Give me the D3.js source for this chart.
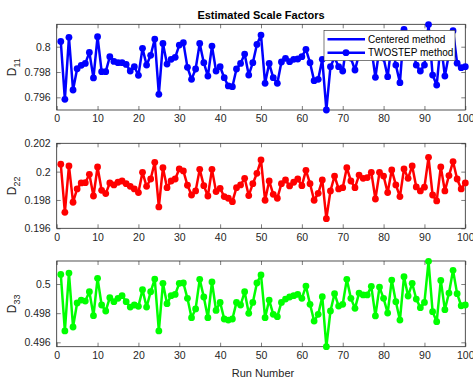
<!DOCTYPE html>
<html><head><meta charset="utf-8">
<script src="https://cdn.jsdelivr.net/npm/d3@7"></script>
<style>body{margin:0;background:#fff;} svg{display:block;font-family:"Liberation Sans",Arial,sans-serif;}</style>
</head><body>
<svg id="c" width="473" height="381"></svg>
<script>
const runs = d3.range(1, 101);
const D11 = [0.80042,0.79584,0.80074,0.79658,0.79826,0.79853,0.79868,0.79955,0.79753,0.80079,
0.79803,0.79803,0.79921,0.79884,0.79874,0.79874,0.7986,0.79808,0.79842,0.79774,
0.79987,0.79855,0.79932,0.8006,0.79624,0.80026,0.79863,0.799,0.79916,0.80013,
0.80032,0.79837,0.79742,0.79824,0.80026,0.79874,0.79768,0.80005,0.79808,0.79842,
0.79755,0.7969,0.79684,0.79824,0.79868,0.79942,0.79776,0.79874,0.80018,0.80092,
0.79711,0.79868,0.79755,0.79711,0.79879,0.79908,0.79882,0.799,0.79903,0.79921,
0.79979,0.79874,0.79732,0.79742,0.799,0.795,0.79842,0.79915,0.79842,0.79808,
0.8003,0.7991,0.79816,0.7994,0.7993,0.7993,0.7999,0.79758,0.7999,0.7991,
0.79763,0.8003,0.79855,0.79716,0.80137,0.7992,0.8001,0.79855,0.79808,0.79855,
0.80175,0.79776,0.79697,0.8003,0.79768,0.7994,0.80126,0.7987,0.79834,0.79842];
const D22 = [0.20052,0.19713,0.2004,0.19784,0.19878,0.1992,0.19922,0.19981,0.19828,0.20033,
0.19868,0.19845,0.1992,0.19906,0.19925,0.19934,0.19915,0.19896,0.19878,0.19852,
0.19995,0.19896,0.19948,0.20066,0.19751,0.20028,0.19887,0.19934,0.19948,0.20019,
0.20005,0.19904,0.19835,0.19864,0.20016,0.19901,0.19828,0.20016,0.19859,0.19882,
0.19824,0.19812,0.19788,0.19887,0.19906,0.19953,0.19831,0.19915,0.19988,0.20082,
0.19798,0.19934,0.1984,0.19812,0.19915,0.19941,0.19899,0.19925,0.19948,0.19901,
0.20009,0.19915,0.19798,0.19847,0.19941,0.19668,0.19864,0.19969,0.19878,0.19887,
0.20028,0.19934,0.19887,0.19976,0.19953,0.19958,0.19995,0.19807,0.19995,0.19969,
0.19852,0.20012,0.19906,0.19824,0.20019,0.19953,0.2004,0.19892,0.19864,0.1989,
0.20101,0.19835,0.19793,0.20033,0.19864,0.19972,0.20071,0.19948,0.19878,0.1992];
const D33 = [0.50066,0.49678,0.50075,0.49705,0.4987,0.4989,0.49883,0.49947,0.49783,0.50039,
0.49856,0.49815,0.49906,0.49879,0.49902,0.4992,0.49879,0.49842,0.49856,0.49847,
0.49961,0.49842,0.49947,0.50034,0.49678,0.50005,0.49865,0.4992,0.49929,0.50005,
0.50007,0.49902,0.49769,0.49829,0.50032,0.49911,0.49769,0.50014,0.49819,0.49874,
0.4976,0.49753,0.4976,0.49874,0.49856,0.49947,0.49799,0.49874,0.50007,0.50062,
0.49769,0.4989,0.49792,0.49776,0.49874,0.49897,0.49911,0.4992,0.49929,0.49902,
0.49986,0.49861,0.49746,0.49792,0.49913,0.4957,0.49815,0.49934,0.49849,0.49861,
0.50032,0.49902,0.49833,0.49938,0.49925,0.49925,0.49984,0.49781,0.49979,0.49902,
0.49801,0.50027,0.49879,0.49753,0.5005,0.49918,0.50005,0.49897,0.49838,0.49874,
0.50156,0.4981,0.49742,0.50025,0.49824,0.49938,0.50094,0.49934,0.49851,0.49856];
const yDomain11 = [0.795, 0.80177];
const yDomain22 = [0.196, 0.202];
const yDomain33 = [0.4957, 0.50158];
const yTicks11 = [0.796, 0.798, 0.8];
const yTicks22 = [0.196, 0.198, 0.2, 0.202];
const yTicks33 = [0.496, 0.498, 0.5];
const xTicks = [0,10,20,30,40,50,60,70,80,90,100];
const legendLabels = ["Centered method", "TWOSTEP method"];

const svg = d3.select("#c");
const L = 56.7, R = 465.3;
const x = d3.scaleLinear().domain([0,100]).range([L,R]);
const axisCol = "#262626";
const MR = 3.4, LW = 2.5;

const panels = [
  {vals:D11, dom:yDomain11, ticks:yTicks11, top:24.3, bot:110, col:"#0000ff", sub:"11"},
  {vals:D22, dom:yDomain22, ticks:yTicks22, top:143.3, bot:228.3, col:"#ff0000", sub:"22"},
  {vals:D33, dom:yDomain33, ticks:yTicks33, top:261, bot:346.7, col:"#00ff00", sub:"33"}
];

panels.forEach(p => {
  const y = d3.scaleLinear().domain(p.dom).range([p.bot, p.top]);
  const g = svg.append("g");
  const fmt = d => d3.format("")(+d.toFixed(3));
  const styleAxis = sel => {
    sel.select(".domain").remove();
    sel.selectAll("line").attr("stroke", axisCol).attr("stroke-width", 0.6);
    sel.selectAll("text").attr("fill", axisCol).attr("font-size", 10.5).attr("font-family", '"Liberation Sans",Arial,sans-serif');
  };
  g.append("g").attr("transform", `translate(0,${p.bot})`)
    .call(d3.axisBottom(x).tickValues(xTicks).tickSize(-4).tickPadding(5).tickFormat(d3.format("d"))).call(styleAxis);
  g.append("g").attr("transform", `translate(0,${p.top})`)
    .call(d3.axisTop(x).tickValues(xTicks).tickSize(-4).tickFormat("")).call(styleAxis);
  g.append("g").attr("transform", `translate(${L},0)`)
    .call(d3.axisLeft(y).tickValues(p.ticks).tickSize(-4).tickPadding(6).tickFormat(fmt)).call(styleAxis);
  g.append("g").attr("transform", `translate(${R},0)`)
    .call(d3.axisRight(y).tickValues(p.ticks).tickSize(-4).tickFormat("")).call(styleAxis);
  g.append("rect").attr("x", L).attr("y", p.top).attr("width", R-L).attr("height", p.bot-p.top)
    .attr("fill", "none").attr("stroke", axisCol).attr("stroke-width", 0.8);

  const line = d3.line().x((d,i) => x(runs[i])).y(d => y(d));
  g.append("path").datum(p.vals).attr("d", line).attr("fill", "none")
    .attr("stroke", p.col).attr("stroke-width", LW).attr("stroke-linejoin", "round");
  g.selectAll("circle.m").data(p.vals).join("circle").attr("class","m")
    .attr("cx", (d,i) => x(runs[i])).attr("cy", d => y(d)).attr("r", MR).attr("fill", p.col);

  const cy = (p.top + p.bot) / 2;
  const t = g.append("text").attr("transform", `translate(16,${cy}) rotate(-90)`)
    .attr("text-anchor", "middle").attr("fill", axisCol).attr("font-size", 12);
  t.append("tspan").text("D");
  t.append("tspan").attr("font-size", 9).attr("dy", 4).text(p.sub);
});

svg.append("text").attr("x", (L+R)/2).attr("y", 19).attr("text-anchor", "middle")
  .attr("font-size", 11).attr("font-weight", "bold").attr("fill", "#000").text("Estimated Scale Factors");
svg.append("text").attr("x", (L+R)/2 + 2).attr("y", 377).attr("text-anchor", "middle")
  .attr("font-size", 11).attr("fill", axisCol).text("Run Number");

// legend
const lg = svg.append("g");
lg.append("rect").attr("x", 324).attr("y", 30.3).attr("width", 131).attr("height", 30.4)
  .attr("fill", "#fff").attr("stroke", axisCol).attr("stroke-width", 0.6);
const rows = [39.3, 52.7];
legendLabels.forEach((lab, i) => {
  lg.append("line").attr("x1", 327.5).attr("x2", 365).attr("y1", rows[i]).attr("y2", rows[i])
    .attr("stroke", "#0000ff").attr("stroke-width", LW);
  if (i === 1) lg.append("circle").attr("cx", 346).attr("cy", rows[i]).attr("r", MR).attr("fill", "#0000ff");
  lg.append("text").attr("x", 368).attr("y", rows[i]).attr("dy", "0.35em").attr("font-size", 10)
    .attr("fill", "#000").text(lab);
});
</script>
</body></html>
